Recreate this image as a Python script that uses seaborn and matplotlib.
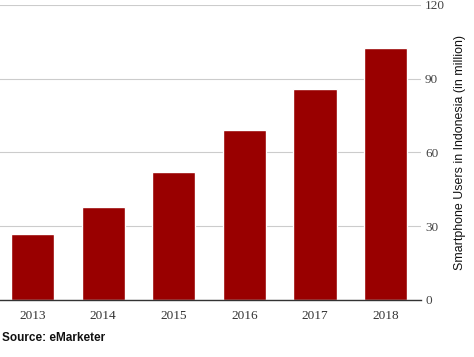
import matplotlib
matplotlib.use("Agg")
import matplotlib.pyplot as plt
import seaborn as sns
import pandas as pd

# data
years = ["2013", "2014", "2015", "2016", "2017", "2018"]
users = [27, 38, 52, 69, 86, 102.5]
y_ticks = [0, 30, 60, 90, 120]

bar_color = "#990000"

sns.set_style("white")
df = pd.DataFrame({"year": years, "users": users})

fig = plt.figure(figsize=(4.74, 3.57), dpi=100)
ax = fig.add_axes([-0.006, 0.16, 0.894, 0.826])

sns.barplot(data=df, x="year", y="users", color=bar_color, width=0.61,
            saturation=1, ax=ax)

ax.set_ylim(0, 120)
ax.set_yticks(y_ticks)
ax.yaxis.tick_right()
ax.grid(axis="y", color="#cccccc", linewidth=0.8)
ax.set_axisbelow(True)
for side in ["left", "right", "top"]:
    ax.spines[side].set_visible(False)
ax.spines["bottom"].set_color("#333333")
ax.spines["bottom"].set_linewidth(1)

ax.tick_params(axis="y", length=0, pad=3, labelsize=9.5, labelcolor="#444444")
ax.tick_params(axis="x", length=0, pad=7, labelsize=9.5, labelcolor="#333333")
for lbl in ax.get_xticklabels() + ax.get_yticklabels():
    lbl.set_family("Liberation Serif")

ax.set_xlabel("")
ax.set_ylabel("")
# y label sits in the right margin, next to the tick labels
fig.text(0.971, 0.573, "Smartphone Users in Indonesia (in million)",
         rotation=90, ha="center", va="center", fontsize=8.9,
         family="Liberation Sans", color="#111111")

fig.text(0.004, 0.045, "Source: eMarketer", fontsize=8.5, fontweight="bold",
         family="Liberation Sans", color="#111111")

fig.savefig("out.png", dpi=100)
